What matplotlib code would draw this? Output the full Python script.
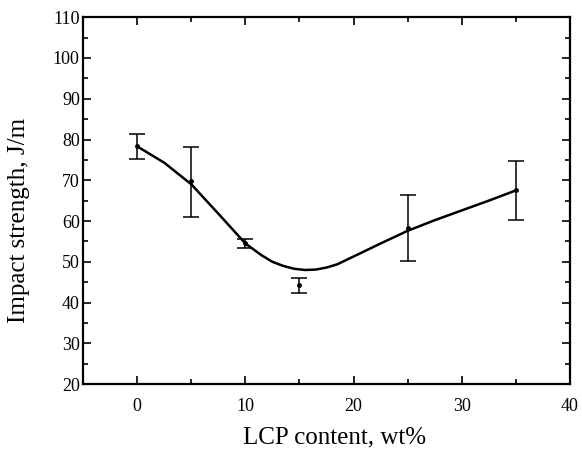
import matplotlib
matplotlib.use("Agg")
import matplotlib.pyplot as plt
from matplotlib.ticker import MultipleLocator

# measured points with error bars
lcp = [0, 5, 10, 15, 25, 35]
strength = [78.3, 69.8, 54.6, 44.3, 58.4, 67.5]
err_low = [75.3, 61.1, 53.4, 42.4, 50.2, 60.2]
err_high = [81.4, 78.2, 55.6, 46.1, 66.4, 74.8]

# fitted curve
curve_x = [0, 2.5, 5, 7.5, 10, 11.5, 12.5, 13.5, 14.5, 15.5, 16.5, 17.5, 18.5, 20, 22.5, 25, 27.5, 30, 32.5, 35]
curve_y = [78.3, 74.3, 69.0, 61.8, 54.5, 51.6, 50.0, 49.0, 48.3, 48.0, 48.1, 48.6, 49.4, 51.3, 54.5, 57.6, 60.2, 62.6, 65.0, 67.5]

xticks = [0, 10, 20, 30, 40]
yticks = [20, 30, 40, 50, 60, 70, 80, 90, 100, 110]

plt.rcParams['font.family'] = ['Liberation Serif', 'DejaVu Serif']

fig = plt.figure(figsize=(5.82, 4.53), dpi=100)
ax = fig.add_axes([0.143, 0.152, 0.836, 0.81])

ax.plot(curve_x, curve_y, color='black', lw=1.8, solid_capstyle='round', solid_joinstyle='round')
yerr = [[s - l for s, l in zip(strength, err_low)], [h - s for s, h in zip(strength, err_high)]]
ax.errorbar(lcp, strength, yerr=yerr, fmt='o', color='black', ms=2.5,
            elinewidth=1.1, capsize=6, capthick=1.1)

ax.set_xlim(-5, 40)
ax.set_ylim(20, 110)
ax.set_xticks(xticks)
ax.set_yticks(yticks)
ax.xaxis.set_minor_locator(MultipleLocator(5))
ax.yaxis.set_minor_locator(MultipleLocator(5))
ax.tick_params(which='both', direction='in', top=True, right=True, width=1.2,
               labelsize=13, colors='black')
ax.tick_params(which='major', length=6)
ax.tick_params(which='minor', length=3.5)
ax.tick_params(axis='x', pad=10)
ax.tick_params(axis='y', pad=2.5)
for s in ax.spines.values():
    s.set_linewidth(1.6)

ax.set_xlabel('LCP content, wt%', fontsize=18, labelpad=9)
ax.set_ylabel('Impact strength, J/m', fontsize=18)
ax.yaxis.set_label_coords(-0.109, 0.447)
ax.xaxis.set_label_coords(0.516, -0.115)

fig.savefig('out.png', dpi=100)
